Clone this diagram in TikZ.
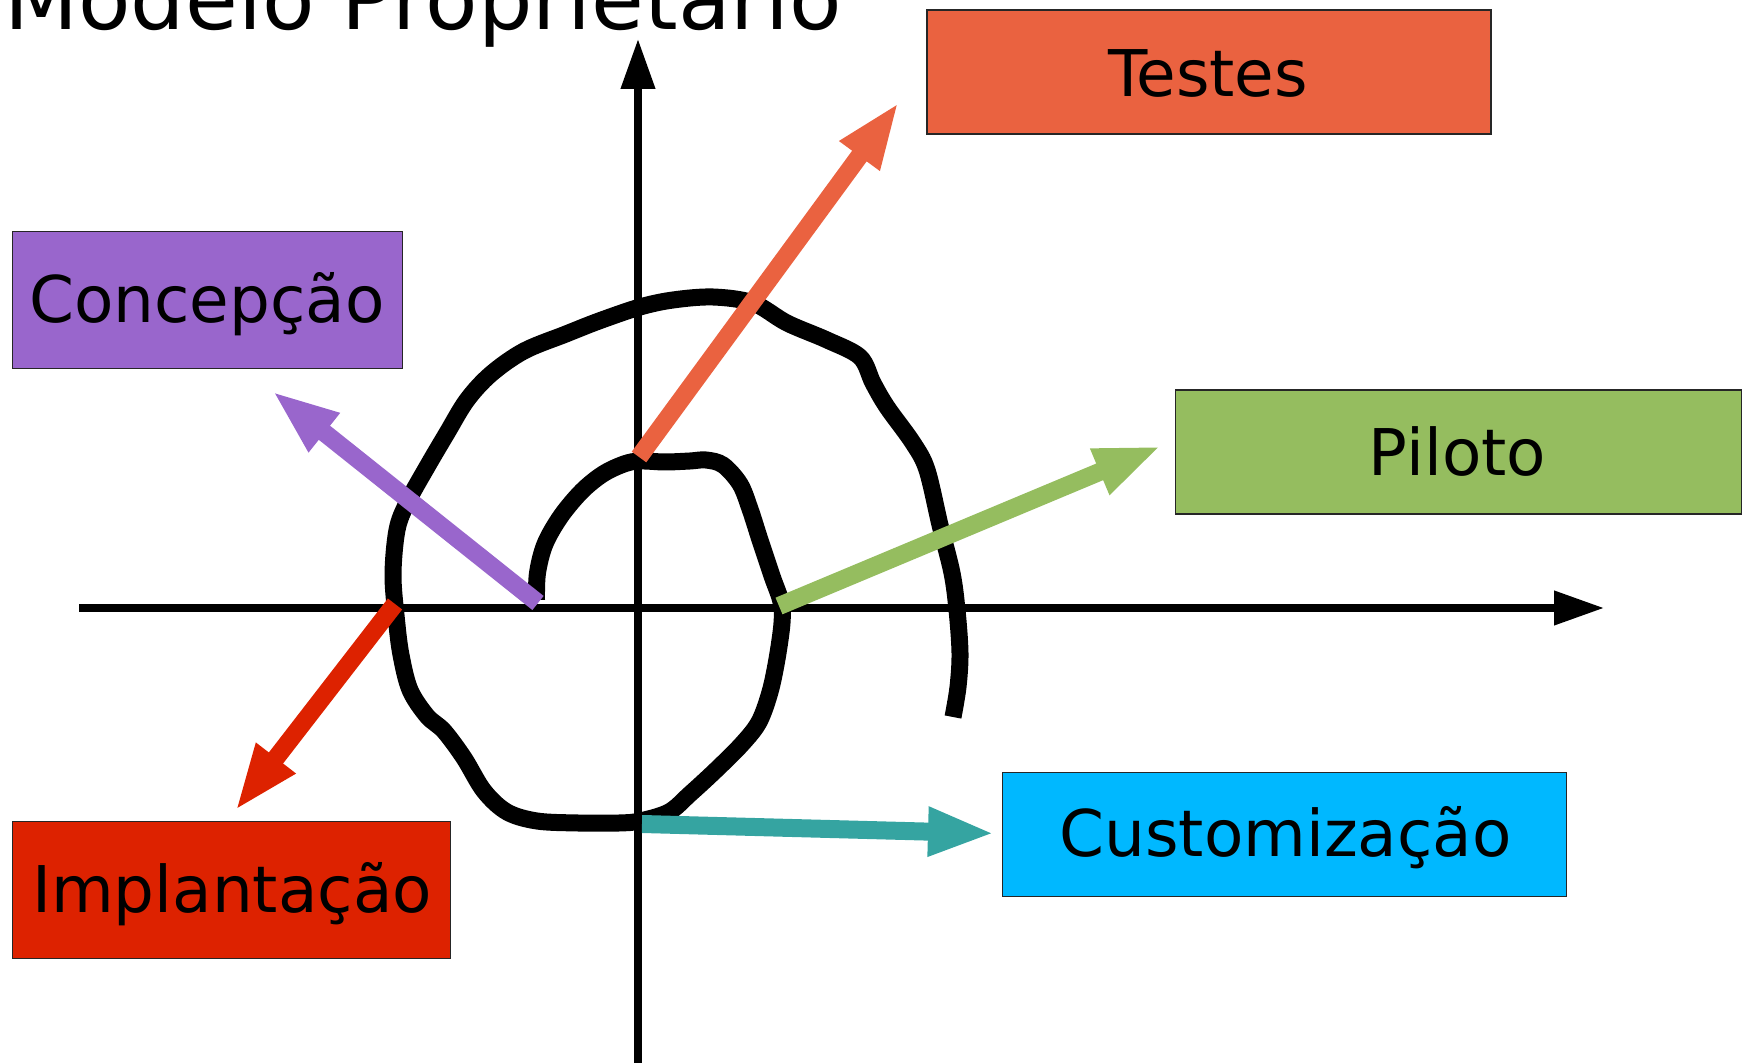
\documentclass[tikz,border=0pt]{standalone}
\usepackage{fontspec}
\setmainfont{DejaVu Sans}
\usetikzlibrary{arrows.meta}
\definecolor{testesC}{HTML}{EA6240}
\definecolor{concC}{HTML}{9966CC}
\definecolor{pilotoC}{HTML}{95BD5F}
\definecolor{custC}{HTML}{00B8FF}
\definecolor{implC}{HTML}{DD2200}
\definecolor{tealC}{HTML}{35A4A1}
\begin{document}
\begin{tikzpicture}[x=0.5pt,y=-0.5pt,
  box/.style={draw=black!85,line width=0.6pt,inner sep=0pt},
  lbl/.style={font=\fontsize{32.2pt}{38pt}\selectfont,anchor=base,inner sep=0pt},
  bigarrow/.style={line width=9pt,-{Triangle[length=33.5pt,width=22.5pt]}},
  axisline/.style={line width=3.7pt,-{Triangle[length=25pt,width=16.5pt]}},
  spiral/.style={line width=8.5pt}]
\useasboundingbox (0,0) rectangle (1742,1063);

% title
\node[anchor=base west,inner sep=0pt,font=\fontsize{42.9pt}{50pt}\selectfont] (title) at (4,30) {Modelo Proprietário};

% boxes
\node[box,fill=testesC,minimum width=282pt,minimum height=62pt] (testes) at (1209,72) {};
\node[lbl] (testesT) at (1208,96.5) {Testes};
\node[box,fill=concC,minimum width=194.8pt,minimum height=68.3pt] (conc) at (207.5,300) {};
\node[lbl] (concT) at (207,322.5) {Concepção};
\node[box,fill=pilotoC,minimum width=282.8pt,minimum height=62pt] (piloto) at (1458.3,452) {};
\node[lbl] (pilotoT) at (1457.6,475.5) {Piloto};
\node[box,fill=custC,minimum width=282pt,minimum height=62pt] (cust) at (1284.4,834.4) {};
\node[lbl] (custT) at (1285.5,856.6) {Customização};
\node[box,fill=implC,minimum width=219pt,minimum height=68.3pt] (impl) at (231.7,890) {};
\node[lbl] (implT) at (232,912.3) {Implantação};

% axes
\coordinate (hstart) at (79,608);
\coordinate (hend) at (1604,608);
\coordinate (vstart) at (638,1063);
\coordinate (vend) at (638,39);
\draw[axisline] (hstart) -- (hend);
\draw[axisline] (vstart) -- (vend);

% spiral
\draw[spiral] plot[smooth,tension=0.55] coordinates {
(536.5,600) (537.5,573) (545,544) (561,516) (582,491) (603,474) (624,464)
(640,461) (665,462) (690,461) (706,460) (723,465) (740,484) (750,509)
(760,540) (772,576) (781,602) (782,623) (777,659) (770,692) (759,722)
(742,744) (716,770) (690,794) (669,812) (640,821) (619,823) (578,823)
(537,821) (507,812) (484,791) (464,758) (444,731) (427,716) (410,690)
(401,655) (396.5,620) (393,575) (397,530) (407,503) (427,467) (447,433)
(467,400) (491,374) (524,351) (566,334) (599,321) (640,307) (673,300) (713,297)
(753,303) (787,323) (827,340) (860,357) (873,383) (887,407) (913,443)
(927,470) (940,525) (952,573) (957,610) (960,653) (958,687) (953,717)};

% colored arrows
\coordinate (testesA) at (639,457);  \coordinate (testesB) at (899,102);
\coordinate (concA) at (538,603);    \coordinate (concB) at (272,391);
\coordinate (pilotoA) at (779,606);  \coordinate (pilotoB) at (1161.5,446);
\coordinate (custA) at (642,824);    \coordinate (custB) at (995,833.4);
\coordinate (implA) at (395,604);    \coordinate (implB) at (235,811);
\draw[bigarrow,testesC] (testesA) -- (testesB);
\draw[bigarrow,concC] (concA) -- (concB);
\draw[bigarrow,pilotoC] (pilotoA) -- (pilotoB);
\draw[bigarrow,tealC] (custA) -- (custB);
\draw[bigarrow,implC] (implA) -- (implB);
\end{tikzpicture}
\end{document}
